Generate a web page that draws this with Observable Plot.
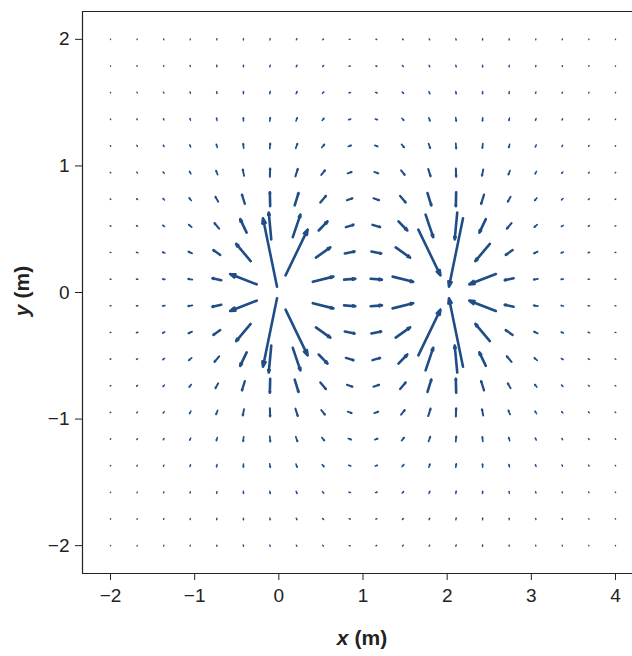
<!DOCTYPE html>
<html><head><meta charset="utf-8">
<script src="https://cdn.jsdelivr.net/npm/d3@7"></script>
<script src="https://cdn.jsdelivr.net/npm/@observablehq/plot@0.6"></script>
<style>
html,body{margin:0;padding:0;background:#fff;}
</style></head><body>
<div id="chart"></div>
<script>
// Grid of sample points (m)
const gridX = [-2, -1.684, -1.368, -1.053, -0.737, -0.421, -0.105, 0.211, 0.526, 0.842,
               1.158, 1.474, 1.789, 2.105, 2.421, 2.737, 3.053, 3.368, 3.684, 4];
const gridY = [-2, -1.789, -1.579, -1.368, -1.158, -0.947, -0.737, -0.526, -0.316, -0.105,
               0.105, 0.316, 0.526, 0.737, 0.947, 1.158, 1.368, 1.579, 1.789, 2];

// Arrow components (units of 1e-4 m in plot space), one row per gridY value; null = not drawn
const U = [
 [-28,-28,-25,-18,-4,18,46,75,99,112,112,99,75,46,18,-4,-18,-25,-28,-28],
 [-35,-38,-37,-31,-15,13,52,93,126,145,145,126,93,52,13,-15,-31,-37,-38,-35],
 [-45,-50,-54,-50,-33,2,56,116,165,191,191,165,116,56,2,-33,-50,-54,-50,-45],
 [-55,-66,-75,-78,-64,-20,58,149,220,256,256,220,149,58,-20,-64,-78,-75,-66,-55],
 [-68,-84,-103,-118,-114,-63,54,199,304,349,349,304,199,54,-63,-114,-118,-103,-84,-68],
 [-80,-105,-138,-175,-198,-152,31,282,435,481,481,435,282,31,-152,-198,-175,-138,-105,-80],
 [-93,-128,-179,-252,-336,-341,-41,452,657,664,664,657,452,-41,-341,-336,-252,-179,-128,-93],
 [-105,-149,-221,-344,-548,-770,-301,906,1051,901,901,1051,906,-301,-770,-548,-344,-221,-149,-105],
 [-113,-166,-258,-435,-822,-1723,-1668,2626,1713,1157,1157,1713,2626,-1668,-1723,-822,-435,-258,-166,-113],
 [-118,-175,-279,-495,-1047,-3152,null,null,2444,1338,1338,2444,null,null,-3152,-1047,-495,-279,-175,-118],
 [-118,-175,-279,-495,-1047,-3152,null,null,2444,1338,1338,2444,null,null,-3152,-1047,-495,-279,-175,-118],
 [-113,-166,-258,-435,-822,-1723,-1668,2626,1713,1157,1157,1713,2626,-1668,-1723,-822,-435,-258,-166,-113],
 [-105,-149,-221,-344,-548,-770,-301,906,1051,901,901,1051,906,-301,-770,-548,-344,-221,-149,-105],
 [-93,-128,-179,-252,-336,-341,-41,452,657,664,664,657,452,-41,-341,-336,-252,-179,-128,-93],
 [-80,-105,-138,-175,-198,-152,31,282,435,481,481,435,282,31,-152,-198,-175,-138,-105,-80],
 [-68,-84,-103,-118,-114,-63,54,199,304,349,349,304,199,54,-63,-114,-118,-103,-84,-68],
 [-55,-66,-75,-78,-64,-20,58,149,220,256,256,220,149,58,-20,-64,-78,-75,-66,-55],
 [-45,-50,-54,-50,-33,2,56,116,165,191,191,165,116,56,2,-33,-50,-54,-50,-45],
 [-35,-38,-37,-31,-15,13,52,93,126,145,145,126,93,52,13,-15,-31,-37,-38,-35],
 [-28,-28,-25,-18,-4,18,46,75,99,112,112,99,75,46,18,-4,-18,-25,-28,-28]
];
const V = [
 [-42,-54,-68,-84,-98,-107,-106,-90,-61,-21,21,61,90,106,107,98,84,68,54,42],
 [-45,-60,-79,-101,-124,-141,-143,-124,-84,-29,29,84,124,143,141,124,101,79,60,45],
 [-48,-66,-90,-122,-157,-188,-197,-174,-118,-41,41,118,174,197,188,157,122,90,66,48],
 [-49,-70,-101,-145,-200,-255,-280,-251,-168,-58,58,168,251,280,255,200,145,101,70,49],
 [-49,-73,-111,-170,-256,-354,-413,-374,-245,-83,83,245,374,413,354,256,170,111,73,49],
 [-47,-72,-116,-193,-322,-504,-644,-584,-360,-115,115,360,584,644,504,322,193,116,72,47],
 [-41,-66,-113,-205,-392,-734,-1089,-972,-524,-152,152,524,972,1089,734,392,205,113,66,41],
 [-33,-54,-97,-193,-433,-1066,-2122,-1778,-721,-178,178,721,1778,2122,1066,433,193,97,54,33],
 [-21,-36,-67,-144,-378,-1357,-5399,-3623,-806,-159,159,806,3623,5399,1357,378,144,67,36,21],
 [-7,-13,-24,-54,-158,-810,null,null,-410,-67,67,410,null,null,810,158,54,24,13,7],
 [7,13,24,54,158,810,null,null,410,67,-67,-410,null,null,-810,-158,-54,-24,-13,-7],
 [21,36,67,144,378,1357,5399,3623,806,159,-159,-806,-3623,-5399,-1357,-378,-144,-67,-36,-21],
 [33,54,97,193,433,1066,2122,1778,721,178,-178,-721,-1778,-2122,-1066,-433,-193,-97,-54,-33],
 [41,66,113,205,392,734,1089,972,524,152,-152,-524,-972,-1089,-734,-392,-205,-113,-66,-41],
 [47,72,116,193,322,504,644,584,360,115,-115,-360,-584,-644,-504,-322,-193,-116,-72,-47],
 [49,73,111,170,256,354,413,374,245,83,-83,-245,-374,-413,-354,-256,-170,-111,-73,-49],
 [49,70,101,145,200,255,280,251,168,58,-58,-168,-251,-280,-255,-200,-145,-101,-70,-49],
 [48,66,90,122,157,188,197,174,118,41,-41,-118,-174,-197,-188,-157,-122,-90,-66,-48],
 [45,60,79,101,124,141,143,124,84,29,-29,-84,-124,-143,-141,-124,-101,-79,-60,-45],
 [42,54,68,84,98,107,106,90,61,21,-21,-61,-90,-106,-107,-98,-84,-68,-54,-42]
];

const xTicks = [-2, -1, 0, 1, 2, 3, 4];
const yTicks = [-2, -1, 0, 1, 2];
const xDomain = [-2.333, 4.333];
const yDomain = [-2.22, 2.22];

// Table for the arrow marks (arrows pivot about their grid point)
const arrows = [];
gridY.forEach((y, j) => gridX.forEach((x, k) => {
  const u = U[j][k], v = V[j][k];
  if (u == null || v == null) return;
  const du = u / 1e4, dv = v / 1e4;
  arrows.push({x1: x - du / 2, y1: y - dv / 2, x2: x + du / 2, y2: y + dv / 2, m: Math.hypot(du, dv)});
}));
const small = arrows.filter(d => d.m < 0.12);
const medium = arrows.filter(d => d.m >= 0.12 && d.m < 0.3);
const large = arrows.filter(d => d.m >= 0.3);

const blue = "#1f4d86";
const ink = "#222";
const font = "'Liberation Sans', Arial, Helvetica, sans-serif";
const arrowStyle = {
  x1: "x1", y1: "y1", x2: "x2", y2: "y2",
  stroke: blue, fill: blue,
  strokeWidth: d => Math.min(2.6, 1.15 + 14 * d.m),
  strokeLinecap: "round", strokeLinejoin: "round"
};

const chart = Plot.plot({
  width: 632,
  height: 656,
  marginLeft: 82,
  marginRight: 0,
  marginTop: 11,
  marginBottom: 83,
  style: {fontFamily: font, color: ink, background: "#fff"},
  x: {domain: xDomain, range: [82, 643]},
  y: {domain: yDomain},
  marks: [
    Plot.arrow(small, {...arrowStyle, headAngle: 40, headLength: 1.6}),
    Plot.arrow(medium, {...arrowStyle, headAngle: 34, headLength: 4}),
    Plot.arrow(large, {...arrowStyle, headAngle: 36, headLength: 8}),
    Plot.ruleX([xDomain[0]], {stroke: ink, strokeWidth: 1.2}),
    Plot.ruleY([yDomain[1]], {stroke: ink, strokeWidth: 1.2}),
    Plot.ruleY([yDomain[0]], {stroke: ink, strokeWidth: 1.2}),
    Plot.axisX({ticks: xTicks, tickFormat: "d", anchor: "bottom", tickSize: 7, tickPadding: 8, fontSize: 19, label: null, stroke: ink}),
    Plot.axisY({ticks: yTicks, tickFormat: "d", anchor: "left", tickSize: 7, tickPadding: 6, fontSize: 19, label: null, stroke: ink}),
    Plot.text(["x"], {frameAnchor: "bottom", dx: -9, dy: 65, textAnchor: "end", lineAnchor: "middle",
      fontSize: 21, fontWeight: "bold", fontStyle: "italic", fill: ink}),
    Plot.text(["(m)"], {frameAnchor: "bottom", dx: -3, dy: 65, textAnchor: "start", lineAnchor: "middle",
      fontSize: 21, fontWeight: "bold", fill: ink}),
    Plot.text(["y"], {frameAnchor: "left", dx: -60, dy: 12, rotate: -90, textAnchor: "end", lineAnchor: "middle",
      fontSize: 21, fontWeight: "bold", fontStyle: "italic", fill: ink}),
    Plot.text(["(m)"], {frameAnchor: "left", dx: -60, dy: 6, rotate: -90, textAnchor: "start", lineAnchor: "middle",
      fontSize: 21, fontWeight: "bold", fill: ink})
  ]
});
document.getElementById("chart").appendChild(chart);
</script>
</body></html>
